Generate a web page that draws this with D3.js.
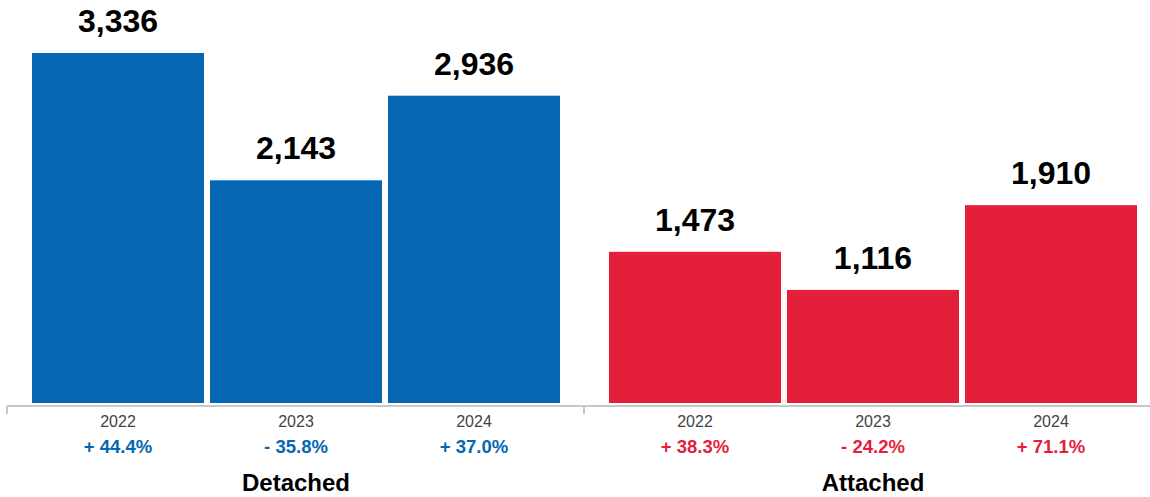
<!DOCTYPE html>
<html lang="en">
<head>
    <meta charset="UTF-8">
    <title>Detached vs Attached</title>
    <script src="https://d3js.org/d3.v7.min.js"></script>
    <style>
        body { margin: 0; background: #fff; }
        svg { display: block; font-family: "Liberation Sans", Arial, Helvetica, sans-serif; }
    </style>
</head>
<body>
    <svg id="chart" width="1150" height="497"></svg>
    <script>
        // data
        const groups = ["Detached", "Attached"];
        const years = ["2022", "2023", "2024"];
        const detachedValues = [3336, 2143, 2936];
        const attachedValues = [1473, 1116, 1910];
        const detachedChange = [44.4, -35.8, 37.0];
        const attachedChange = [38.3, -24.2, 71.1];

        const colors = { Detached: "#0567b1", Attached: "#e31f3a" };
        const valuesBy = { Detached: detachedValues, Attached: attachedValues };
        const changeBy = { Detached: detachedChange, Attached: attachedChange };

        const svg = d3.select("#chart");
        const axisY = 406;
        const barBottom = 403;

        // outer scale: one band per group, inner scale: one bar per year
        const x0 = d3.scaleBand().domain(groups).range([7, 1161]);
        const x1 = d3.scaleBand().domain(years).range([25, 553]).paddingInner(6 / 178);
        const y = d3.scaleLinear()
            .domain([0, d3.max([...detachedValues, ...attachedValues])])
            .range([409, 53]);

        const fmt = d3.format(",");
        const pct = v => (v < 0 ? "- " : "+ ") + Math.abs(v).toFixed(1) + "%";

        // axis line + group ticks
        svg.append("line")
            .attr("x1", x0("Detached")).attr("x2", 1150)
            .attr("y1", axisY).attr("y2", axisY)
            .attr("stroke", "#c8c8c8").attr("stroke-width", 2);
        svg.selectAll(".tick").data(groups).enter().append("line")
            .attr("x1", d => x0(d)).attr("x2", d => x0(d))
            .attr("y1", axisY).attr("y2", 414)
            .attr("stroke", "#c8c8c8").attr("stroke-width", 2);

        const g = svg.selectAll(".group").data(groups).enter().append("g")
            .attr("transform", d => `translate(${x0(d)},0)`);

        const cell = g.selectAll(".cell")
            .data(grp => years.map((yr, i) => ({
                grp, yr, value: valuesBy[grp][i], change: changeBy[grp][i]
            })))
            .enter().append("g");

        cell.append("rect")
            .attr("x", d => x1(d.yr))
            .attr("y", d => y(d.value))
            .attr("width", x1.bandwidth())
            .attr("height", d => barBottom - y(d.value))
            .attr("fill", d => colors[d.grp]);

        cell.append("text")
            .attr("x", d => x1(d.yr) + x1.bandwidth() / 2)
            .attr("y", d => y(d.value) - 21)
            .attr("text-anchor", "middle")
            .attr("font-size", 32).attr("font-weight", "bold")
            .attr("fill", "#000")
            .text(d => fmt(d.value));

        cell.append("text")
            .attr("x", d => x1(d.yr) + x1.bandwidth() / 2)
            .attr("y", 427)
            .attr("text-anchor", "middle")
            .attr("font-size", 16)
            .attr("fill", "#444")
            .text(d => d.yr);

        cell.append("text")
            .attr("x", d => x1(d.yr) + x1.bandwidth() / 2)
            .attr("y", 453)
            .attr("text-anchor", "middle")
            .attr("font-size", 18.5).attr("font-weight", "bold")
            .attr("fill", d => colors[d.grp])
            .text(d => pct(d.change));

        g.append("text")
            .attr("x", (x1.range()[0] + x1.range()[1]) / 2)
            .attr("y", 491)
            .attr("text-anchor", "middle")
            .attr("font-size", 24).attr("font-weight", "bold")
            .attr("fill", "#000")
            .text(d => d);
    </script>
</body>
</html>
